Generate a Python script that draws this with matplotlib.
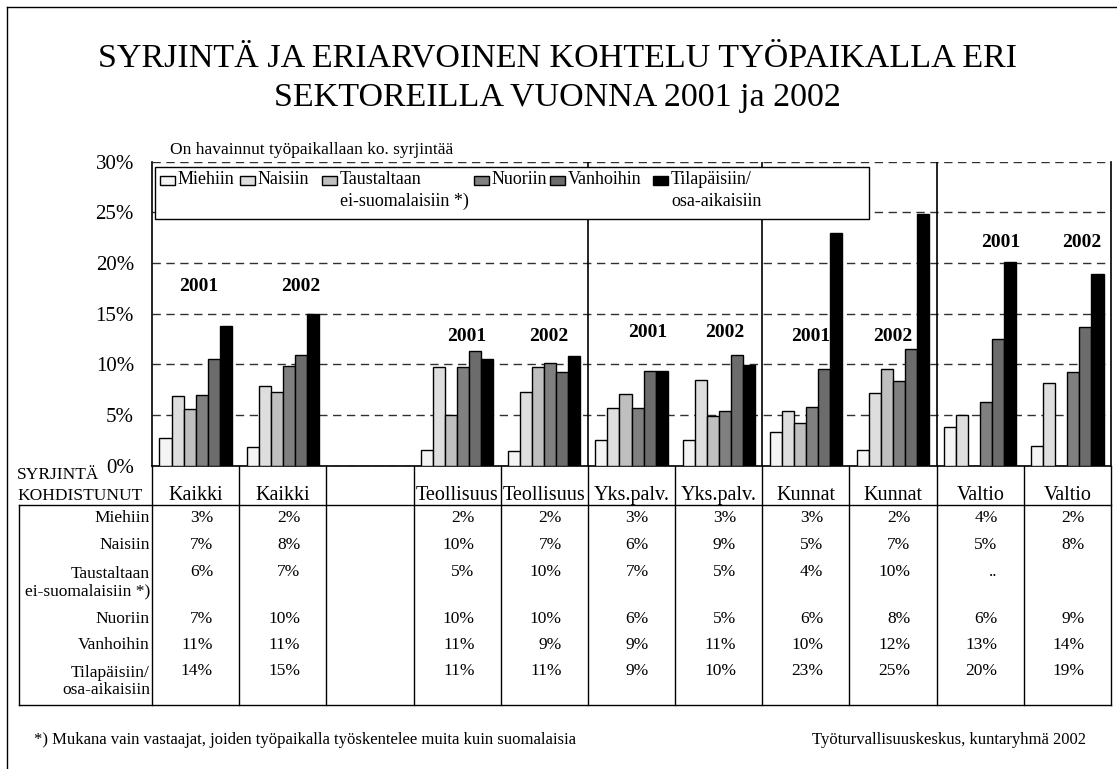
import matplotlib
matplotlib.use("Agg")
import matplotlib.pyplot as plt
import matplotlib.transforms as mtransforms
from matplotlib.patches import Rectangle
from matplotlib.lines import Line2D
import numpy as np

plt.rcParams["font.family"] = ["Liberation Serif", "DejaVu Serif"]

W, H = 1117, 769

# categories (third column is an empty spacer in the original)
columns = ["Kaikki", "Kaikki", "", "Teollisuus", "Teollisuus", "Yks.palv.",
           "Yks.palv.", "Kunnat", "Kunnat", "Valtio", "Valtio"]
years = ["2001", "2002", "", "2001", "2002", "2001", "2002", "2001", "2002", "2001", "2002"]

series_names = ["Miehiin", "Naisiin", "Taustaltaan\nei-suomalaisiin *)",
                "Nuoriin", "Vanhoihin", "Tilapäisiin/\nosa-aikaisiin"]

nan = np.nan
miehiin = [2.76, 1.88, nan, 1.58, 1.50, 2.57, 2.50, 3.36, 1.58, 3.78, 1.97]
naisiin = [6.90, 7.83, nan, 9.70, 7.30, 5.66, 8.50, 5.39, 7.17, 5.03, 8.19]
taustaltaan = [5.60, 7.30, nan, 5.03, 9.70, 7.07, 4.87, 4.18, 9.55, nan, nan]
nuoriin = [7.00, 9.80, nan, 9.70, 10.13, 5.66, 5.39, 5.79, 8.39, 6.30, 9.28]
vanhoihin = [10.55, 10.92, nan, 11.30, 9.28, 9.38, 10.92, 9.55, 11.55, 12.53, 13.72]
tilapaisiin = [13.75, 14.97, nan, 10.55, 10.80, 9.38, 9.93, 23.00, 24.85, 20.07, 18.88]
# ".." = too few answers
taustaltaan_note = {9: ".."}

series = [miehiin, naisiin, taustaltaan, nuoriin, vanhoihin, tilapaisiin]
colors = ["#f4f4f4", "#dedede", "#bfbfbf", "#808080", "#6c6c6c", "#000000"]

# where the year labels sit (column offset, height in %)
year_dx = [0.03, 0.21, 0, 0.11, 0.05, 0.19, 0.07, 0.05, 0.0, 0.24, 0.17]
year_y = [17.7, 17.7, 0, 12.8, 12.8, 13.1, 13.1, 12.8, 12.8, 22.0, 22.0]

# legend entry text starts (px)
legend_x = [178, 258, 340, 492, 568, 671]


def fx(px):
    return px / W


def fy(py):
    return 1 - py / H


fig = plt.figure(figsize=(W / 100, H / 100), dpi=100)

y0, y30 = 465.7, 161.8
ax = fig.add_axes([fx(152), fy(y0), (1111 - 152) / W, (y0 - y30) / H])
ax.set_xlim(-0.5, 10.5)
ax.set_ylim(0, 30)

x = np.arange(len(columns))
w = 0.138
for j, vals in enumerate(series):
    ax.bar(x + (j - 2.5) * w, vals, w, color=colors[j], edgecolor="black",
           linewidth=1.0, zorder=3)

ax.set_yticks(np.arange(0, 31, 5))
ax.set_yticklabels([f"{v}%" for v in range(0, 31, 5)])
ax.tick_params(axis="y", length=0, pad=13, labelsize=15)
ax.set_xticks(x)
ax.set_xticklabels(columns)
ax.tick_params(axis="x", length=0, pad=14.5, labelsize=14.5)

ax.yaxis.grid(True, linestyle=(0, (6, 4)), color="#303030", linewidth=1.0)
ax.set_axisbelow(True)
ax.spines["top"].set_visible(False)
for s in ["left", "right", "bottom"]:
    ax.spines[s].set_linewidth(1.2)

for sep in [4.5, 6.5, 8.5]:
    ax.axvline(sep, color="black", linewidth=1.2, zorder=2)

for i, yr in enumerate(years):
    if yr:
        ax.text(i + year_dx[i], year_y[i], yr, ha="center", va="center",
                fontsize=14, fontweight="bold", zorder=4)

# legend box (drawn by hand: Excel style, first lines aligned)
fig.add_artist(Rectangle((fx(155), fy(219)), (869 - 155) / W, (219 - 167) / H,
                         transform=fig.transFigure, facecolor="white",
                         edgecolor="black", linewidth=1.0, zorder=1))
for j, name in enumerate(series_names):
    tx = legend_x[j]
    fig.add_artist(Rectangle((fx(tx - 18), fy(185)), 15 / W, 9 / H,
                             transform=fig.transFigure, facecolor=colors[j],
                             edgecolor="black", linewidth=1.0, zorder=2))
    lines = name.split("\n")
    for k, ln in enumerate(lines):
        t = fig.text(fx(tx), fy(180 + 21 * k), ln, ha="left", va="center",
                     fontsize=13)
        t.set_zorder(2)

# data table below the chart
blend = mtransforms.blended_transform_factory(ax.transData, fig.transFigure)
tfs = 12.5
for b in np.arange(-0.5, 11, 1.0):
    ax.plot([b, b], [fy(y0), fy(705)], color="black", linewidth=1.0,
            transform=blend, clip_on=False)
for yy in [505, 705]:
    fig.add_artist(Line2D([fx(19), fx(1111)], [fy(yy), fy(yy)], color="black",
                          linewidth=1.0, transform=fig.transFigure))
fig.add_artist(Line2D([fx(19), fx(19)], [fy(505), fy(705)], color="black",
                      linewidth=1.0, transform=fig.transFigure))

fig.text(fx(17), fy(475), "SYRJINTÄ", ha="left", va="center", fontsize=tfs)
fig.text(fx(17), fy(496), "KOHDISTUNUT", ha="left", va="center", fontsize=tfs)

row_y = [518, 545, 572, 619, 645, 671]
line_gap = 21
for r, name in enumerate(series_names):
    yc = row_y[r] + (line_gap / 2 if "\n" in name else 0)
    fig.text(fx(150), fy(yc), name, ha="right", va="center", fontsize=tfs,
             multialignment="right", linespacing=1.15)
    for i in range(len(columns)):
        v = series[r][i]
        if np.isnan(v):
            txt = taustaltaan_note.get(i, "") if r == 2 else ""
        else:
            txt = f"{int(np.floor(v + 0.5))}%"
        if txt:
            ax.text(i + 0.2, fy(row_y[r]), txt, ha="right", va="center",
                    fontsize=tfs, transform=blend)

# titles and notes
fig.text(fx(557), fy(58), "SYRJINTÄ JA ERIARVOINEN KOHTELU TYÖPAIKALLA ERI",
         ha="center", va="center", fontsize=24.5)
fig.text(fx(557), fy(98), "SEKTOREILLA VUONNA 2001 ja 2002",
         ha="center", va="center", fontsize=24.5)
fig.text(fx(170), fy(150), "On havainnut työpaikallaan ko. syrjintää",
         ha="left", va="center", fontsize=12.5)
fig.text(fx(34), fy(740),
         "*) Mukana vain vastaajat, joiden työpaikalla työskentelee muita kuin suomalaisia",
         ha="left", va="center", fontsize=12)
fig.text(fx(1086), fy(740), "Työturvallisuuskeskus, kuntaryhmä 2002",
         ha="right", va="center", fontsize=12)

# outer frame (left and top edges visible)
fig.add_artist(Line2D([fx(7), fx(7)], [fy(7), 0], color="black", linewidth=1.0,
                      transform=fig.transFigure))
fig.add_artist(Line2D([fx(7), 1], [fy(7), fy(7)], color="black", linewidth=1.0,
                      transform=fig.transFigure))

fig.savefig("out.png", dpi=100)
